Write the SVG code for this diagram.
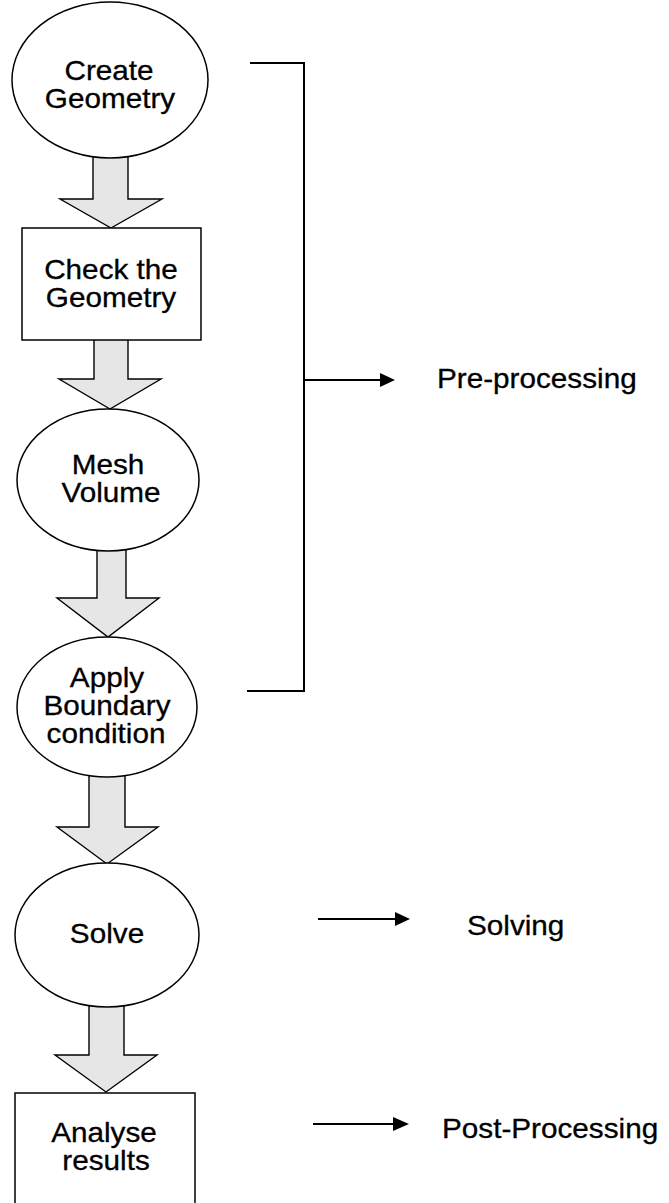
<svg xmlns="http://www.w3.org/2000/svg" width="669" height="1203" viewBox="0 0 669 1203">
<style>
.bg{fill:#ffffff}
.node{fill:#ffffff;stroke:#000000;stroke-width:1.5}
.block{fill:#e6e6e6;stroke:#000000;stroke-width:1.4;stroke-linejoin:miter}
.line{fill:none;stroke:#000000;stroke-width:2}
.head{fill:#000000;stroke:none}
.t{font-family:"Liberation Sans",Arial,Helvetica,sans-serif;font-size:27px;fill:#000000;stroke:#000000;stroke-width:0.3}
.c{text-anchor:middle}
</style>
<rect class="bg" x="0" y="0" width="669" height="1203"/>
<g id="connectors">
  <polygon class="block" points="93,150 128,150 128,199 162,199 111,228 60,199 93,199"/>
  <polygon class="block" points="94,336 128,336 128,379 161,379 110,409 59,379 94,379"/>
  <polygon class="block" points="97,546 126,546 126,598 159,598 108,637 57,598 97,598"/>
  <polygon class="block" points="89,773 125,773 125,827 158,827 107,864 57,827 89,827"/>
  <polygon class="block" points="89,1003 124,1003 124,1055 157,1055 106,1092 55,1055 89,1055"/>
  <path id="bracket" class="line" d="M250,63 H304 V691 H247"/>
  <line class="line" x1="304" y1="380" x2="382" y2="380"/>
  <polygon class="head" points="380,373 395,380 380,387"/>
  <line class="line" x1="318" y1="919" x2="397" y2="919"/>
  <polygon class="head" points="395,912 410,919 395,926"/>
  <line class="line" x1="313" y1="1124" x2="395" y2="1124"/>
  <polygon class="head" points="393,1117 409,1124 393,1131"/>
</g>
<g id="create-geometry">
  <ellipse class="node" cx="110" cy="80" rx="98" ry="78"/>
  <text class="t c" transform="translate(109,80) scale(1.1,1)">Create</text>
  <text class="t c" transform="translate(110,108) scale(1.1,1)">Geometry</text>
</g>
<g id="check-geometry">
  <rect class="node" x="22" y="228" width="179" height="112"/>
  <text class="t c" transform="translate(111,279) scale(1.1,1)">Check the</text>
  <text class="t c" transform="translate(111,307) scale(1.1,1)">Geometry</text>
</g>
<g id="mesh-volume">
  <ellipse class="node" cx="108" cy="480" rx="91" ry="71"/>
  <text class="t c" transform="translate(108,474) scale(1.1,1)">Mesh</text>
  <text class="t c" transform="translate(111,502) scale(1.1,1)">Volume</text>
</g>
<g id="apply-boundary">
  <ellipse class="node" cx="107" cy="707" rx="90" ry="70"/>
  <text class="t c" transform="translate(107,687) scale(1.1,1)">Apply</text>
  <text class="t c" transform="translate(107,715) scale(1.1,1)">Boundary</text>
  <text class="t c" transform="translate(106,743) scale(1.1,1)">condition</text>
</g>
<g id="solve">
  <ellipse class="node" cx="107" cy="935" rx="92" ry="72"/>
  <text class="t c" transform="translate(107,943) scale(1.1,1)">Solve</text>
</g>
<g id="analyse-results">
  <rect class="node" x="15" y="1093" width="180" height="120"/>
  <text class="t c" transform="translate(104,1142) scale(1.1,1)">Analyse</text>
  <text class="t c" transform="translate(106,1170) scale(1.1,1)">results</text>
</g>
<g id="labels">
  <text class="t" transform="translate(437,388) scale(1.1,1)">Pre-processing</text>
  <text class="t" transform="translate(467,935) scale(1.1,1)">Solving</text>
  <text class="t" transform="translate(442,1138) scale(1.1,1)">Post-Processing</text>
</g>
</svg>
